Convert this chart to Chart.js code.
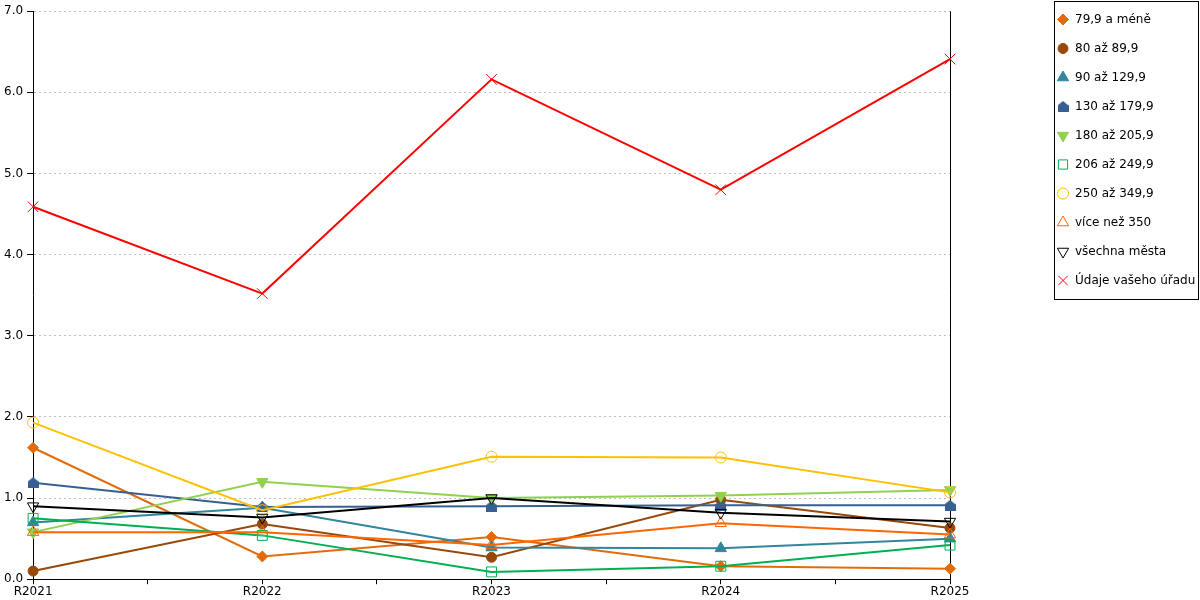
<!DOCTYPE html>
<html>
<head>
<meta charset="utf-8">
<script src="https://cdn.jsdelivr.net/npm/chart.js@4.4.1/dist/chart.umd.min.js"></script>
<style>
  body { margin: 0; background: #fff; }
  #wrap { width: 1200px; height: 600px; }
</style>
</head>
<body>
<div id="wrap"><canvas id="chart" width="1200" height="600"></canvas></div>
<script>
// data
const years = ["R2021", "R2022", "R2023", "R2024", "R2025"];
const yTicks = [0, 1, 2, 3, 4, 5, 6, 7];

const pod80  = [1.62, 0.28, 0.52, 0.16, 0.13];
const s80    = [0.10, 0.68, 0.27, 0.98, 0.63];
const s90    = [0.70, 0.88, 0.39, 0.38, 0.50];
const s130   = [1.19, 0.89, 0.90, 0.91, 0.91];
const s180   = [0.58, 1.20, 1.00, 1.03, 1.10];
const s206   = [0.75, 0.54, 0.09, 0.16, 0.42];
const s250   = [1.93, 0.85, 1.51, 1.50, 1.07];
const nad350 = [0.58, 0.58, 0.42, 0.69, 0.55];
const vsechna = [0.90, 0.76, 1.00, 0.82, 0.71];
const urad   = [4.59, 3.52, 6.16, 4.80, 6.41];

// house shaped marker for 130 až 179,9
function houseMarker(color) {
  const c = document.createElement("canvas");
  c.width = 11; c.height = 11;
  const g = c.getContext("2d");
  g.fillStyle = color;
  g.beginPath();
  g.moveTo(5.5, 0);
  g.lineTo(11, 4.5);
  g.lineTo(11, 11);
  g.lineTo(0, 11);
  g.lineTo(0, 4.5);
  g.closePath();
  g.fill();
  return c;
}

const none = "rgba(0,0,0,0)";

function series(label, values, color, style, radius, filled, rotation) {
  return {
    label: label,
    data: values.map((v, i) => ({ x: i, y: v })),
    borderColor: color,
    backgroundColor: color,
    borderWidth: 2,
    pointStyle: style,
    pointRadius: radius,
    pointRotation: rotation || 0,
    pointBackgroundColor: filled ? color : none,
    pointBorderColor: color,
    pointBorderWidth: 1,
    clip: false,
    tension: 0
  };
}

const datasets = [
  series("79,9 a méně", pod80, "#E36C0A", "rectRot", 5.5, true),
  series("80 až 89,9", s80, "#984807", "circle", 5, true),
  series("90 až 129,9", s90, "#31859C", "triangle", 6.5, true),
  series("130 až 179,9", s130, "#376092", houseMarker("#376092"), 5.5, true),
  series("180 až 205,9", s180, "#92D050", "triangle", 6.5, true, 180),
  series("206 až 249,9", s206, "#00B050", "rect", 7, false),
  series("250 až 349,9", s250, "#FFC000", "circle", 5.5, false),
  series("více než 350", nad350, "#FF6600", "triangle", 6.5, false),
  series("všechna města", vsechna, "#000000", "triangle", 6.5, false, 180),
  series("Údaje vašeho úřadu", urad, "#FF0000", "crossRot", 7.5, false)
];
// later series lie on top
datasets.forEach((d, i) => { d.order = datasets.length - i; });

// legend in a framed box at the right
const boxLegend = {
  id: "boxLegend",
  afterDraw(chart) {
    const ctx = chart.ctx;
    const left = 1055, top = 2, w = 144, h = 298;
    ctx.save();
    ctx.strokeStyle = "#000";
    ctx.lineWidth = 1;
    ctx.strokeRect(left - 0.5, top - 0.5, w, h);
    ctx.font = '12px "DejaVu Sans"';
    ctx.textBaseline = "middle";
    ctx.textAlign = "left";
    chart.data.datasets.forEach((ds, i) => {
      const y = top + 17.5 + i * 29;
      ctx.fillStyle = ds.pointBackgroundColor;
      ctx.strokeStyle = ds.pointBorderColor;
      ctx.lineWidth = 1;
      Chart.helpers.drawPoint(ctx, {
        pointStyle: ds.pointStyle,
        rotation: ds.pointRotation,
        radius: Math.min(ds.pointRadius, 6.5),
        borderWidth: 1
      }, left + 8, y);
      ctx.fillStyle = "#000";
      ctx.fillText(ds.label, left + 20, y + 0.5);
    });
    ctx.restore();
  }
};

Chart.defaults.font.family = '"DejaVu Sans", Verdana, sans-serif';
Chart.defaults.font.size = 12;
Chart.defaults.color = "#000";

new Chart(document.getElementById("chart"), {
  type: "line",
  data: { datasets: datasets },
  options: {
    responsive: false,
    animation: false,
    devicePixelRatio: 1,
    layout: { padding: { top: 10, right: 250, left: 0, bottom: 0 } },
    plugins: {
      legend: { display: false },
      tooltip: { enabled: false }
    },
    scales: {
      x: {
        type: "linear",
        min: 0,
        max: years.length - 1,
        ticks: {
          stepSize: 0.5,
          autoSkip: false,
          maxRotation: 0,
          padding: 1,
          font: { lineHeight: 1.15 },
          callback: v => Number.isInteger(v) ? years[v] : ""
        },
        grid: {
          drawOnChartArea: true,
          color: c => (c.tick && c.tick.value === years.length - 1) ? "#000" : none,
          tickColor: "#000",
          tickLength: 5
        },
        border: { color: "#000", width: 1 }
      },
      y: {
        min: 0,
        max: yTicks[yTicks.length - 1],
        afterBuildTicks: axis => { axis.ticks = yTicks.map(v => ({ value: v })); },
        ticks: {
          padding: 4,
          callback: v => v.toFixed(1)
        },
        grid: {
          color: "#C0C0C0",
          tickColor: "#000",
          tickLength: 6
        },
        border: { color: "#000", width: 1, dash: [2, 3] }
      }
    }
  },
  plugins: [boxLegend]
});
</script>
</body>
</html>
